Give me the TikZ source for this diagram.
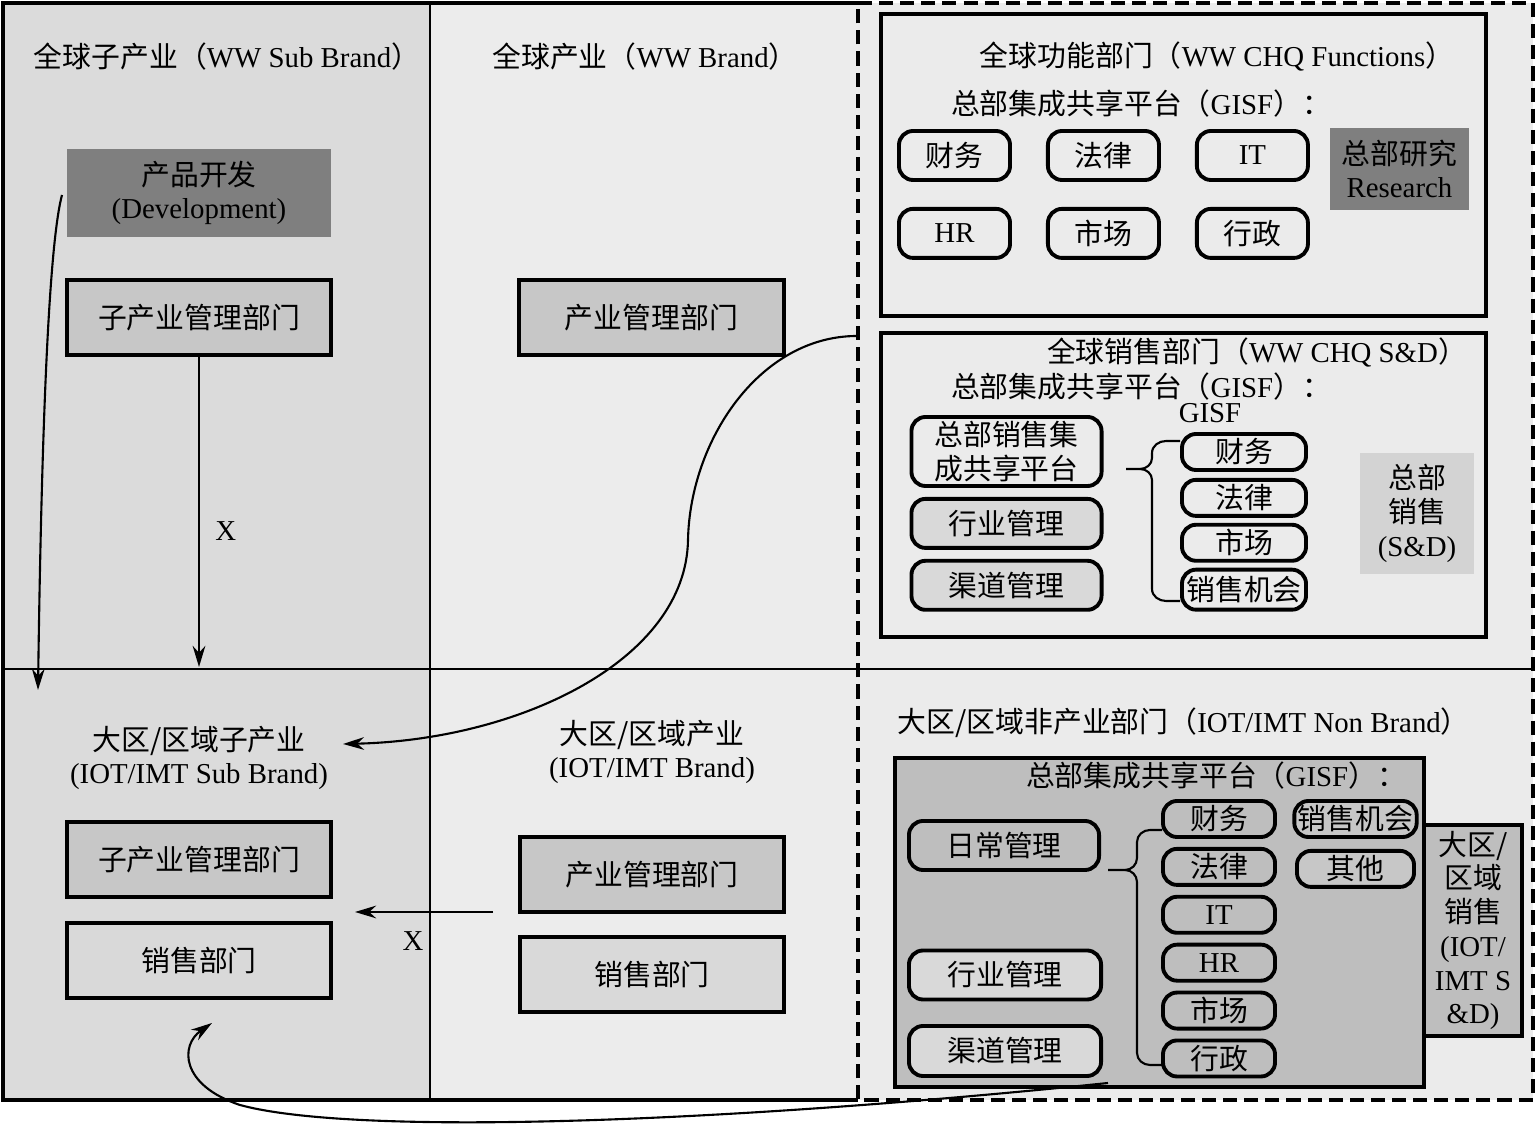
\documentclass[tikz,border=0pt]{standalone}
\usepackage{fontspec}
\setmainfont{Liberation Serif}
\newfontfamily\zhfont{Noto Sans CJK SC}
\usetikzlibrary{arrows.meta, positioning}
\usepackage{xcolor}
\definecolor{panelgray}{HTML}{DBDBDB}
\definecolor{panellight}{HTML}{ECECEC}
\definecolor{rightgray}{HTML}{EBEBEB}
\definecolor{mgrgray}{HTML}{C7C7C7}
\definecolor{salesgray}{HTML}{D9D9D9}
\definecolor{devgray}{HTML}{7F7F7F}
\definecolor{sdgray}{HTML}{D3D3D3}
\definecolor{gisfgray}{HTML}{BEBEBE}
\newcommand{\fs}{\fontsize{8.2}{9.6}\selectfont}
\newcommand{\zh}[1]{{\zhfont #1}}

\begin{document}
\begin{tikzpicture}[
    x=0.01cm, y=-0.01cm,
    font=\fs,
    node distance=0.08cm and 0.34cm,
    title/.style={inner sep=0pt, align=center, font=\fs},
    mgr/.style={draw, line width=1.1pt, fill=mgrgray, font=\zhfont\fs,
                minimum width=2.64cm, minimum height=0.75cm},
    sales/.style={mgr, fill=salesgray},
    dev/.style={fill=devgray, align=center, font=\fs,
                minimum width=2.64cm, minimum height=0.82cm},
    frame/.style={draw, line width=1.1pt},
    rbox/.style={draw, line width=1.1pt, rounded corners=4pt, fill=rightgray,
                 font=\zhfont\fs, inner xsep=1pt, inner ysep=0pt,
                 minimum width=1.11cm, minimum height=0.49cm},
    pbox/.style={rbox, minimum width=1.9cm},
    sbox/.style={rbox, minimum width=1.24cm, minimum height=0.36cm},
    gbox/.style={rbox, fill=gisfgray, minimum width=1.12cm, minimum height=0.36cm},
    arr/.style={-{Stealth[length=6pt, width=3.6pt]}, line width=0.6pt},
    brace/.style={line width=0.6pt},
  ]
    % background panels
    \fill[panelgray]  (3,3)   rectangle (430,1100);
    \fill[panellight] (430,3) rectangle (858,1100);
    \fill[rightgray]  (858,3) rectangle (1533,1100);
    \draw[line width=1pt] (858,3) -- (3,3) -- (3,1100) -- (858,1100);
    \draw[line width=0.7pt] (430,3) -- (430,1100);
    \draw[line width=0.6pt] (3,669) -- (1533,669);
    \draw[line width=1pt, dash pattern=on 4pt off 2pt] (858,3) -- (1533,3) -- (1533,1100) -- (858,1100) -- cycle;

    % global sub brand / brand
    \node[title] (wwsub) at (227,57) {\zh{全球子产业（}WW Sub Brand\zh{）}};
    \node[title] (wwbr)  at (645,57) {\zh{全球产业（}WW Brand\zh{）}};
    \node[dev]   (dev)   at (199,193) {\zh{产品开发}\\(Development)};
    \node[mgr]   (subm)  at (199,317.5) {子产业管理部门};
    \node[mgr]   (brm)   at (651.5,317.5) {产业管理部门};

    % regional sub brand / brand
    \node[title] (iotsub) at (199,758) {\zh{大区/区域子产业}\\(IOT/IMT Sub Brand)};
    \node[mgr]   (rsubm)  at (199,859.5) {子产业管理部门};
    \node[sales, below=0.22cm of rsubm] (rsales) {销售部门};
    \node[title] (iotbr)  at (652,752) {\zh{大区/区域产业}\\(IOT/IMT Brand)};
    \node[mgr]   (rbrm)   at (652,874.5) {产业管理部门};
    \node[sales, below=0.21cm of rbrm] (rbsales) {销售部门};

    % WW CHQ functions
    \node[frame, fill=rightgray, minimum width=6.05cm, minimum height=3.02cm] (fnbox) at (1183.5,165) {};
    \node[title] (wwfn)  at (1217,57)  {\zh{全球功能部门（}WW CHQ Functions\zh{）}};
    \node[title] (gisf1) at (1141,104) {\zh{总部集成共享平台（}GISF\zh{）：}};
    \node[rbox] (fin)  at (954.5,155.5) {财务};
    \node[rbox, right=of fin] (law) {法律};
    \node[rbox, right=of law, font=\fs] (it) {IT};
    \node[rbox, below=0.25cm of fin, font=\fs] (hr) {HR};
    \node[rbox, below=0.25cm of law] (mkt) {市场};
    \node[rbox, below=0.25cm of it] (adm) {行政};
    \node[dev, minimum width=1.39cm, minimum height=0.82cm] (research) at (1399.5,169) {\zh{总部研究}\\Research};

    % WW CHQ S&D
    \node[frame, fill=rightgray, minimum width=6.05cm, minimum height=3.04cm] (sdbox) at (1183.5,485) {};
    \node[title] (wwsd)  at (1257,353) {\zh{全球销售部门（}WW CHQ S\&D\zh{）}};
    \node[title] (gisf2) at (1141,387) {\zh{总部集成共享平台（}GISF\zh{）：}};
    \node[title] (gisfl) at (1210,413) {GISF};
    \node[pbox, minimum height=0.69cm, align=center] (plat) at (1006.5,451.5) {总部销售集\\成共享平台};
    \node[pbox, fill=salesgray, below=0.09cm of plat] (ind1) {行业管理};
    \node[pbox, fill=salesgray, below=0.09cm of ind1] (chn1) {渠道管理};
    \node[sbox] (sfin) at (1244,452) {财务};
    \node[sbox, below=0.06cm of sfin] (slaw) {法律};
    \node[sbox, below=0.05cm of slaw] (smkt) {市场};
    \node[sbox, below=0.05cm of smkt, minimum height=0.4cm] (sopp) {销售机会};
    \node[fill=sdgray, align=center, minimum width=1.14cm, minimum height=1.13cm] (sdl) at (1417,513.5) {\zh{总部}\\\zh{销售}\\(S\&D)};
    \coordinate (b1tip) at (1126,469);
    \coordinate (b1top) at (1180,441);
    \coordinate (b1bot) at (1180,601);
    \draw[brace] (b1top) -- (1166,441) to[out=180, in=90] (1152,453) -- (1152,458)
      to[out=-90, in=0] (1140,469) -- (b1tip);
    \draw[brace] (1140,469) to[out=0, in=90] (1152,480) -- (1152,589)
      to[out=-90, in=180] (1166,601) -- (b1bot);

    % regional non brand
    \node[title, anchor=west] (nonbr) at (897,723) {\zh{大区/区域非产业部门（}IOT/IMT Non Brand\zh{）}};
    \node[frame, fill=gisfgray, minimum width=5.29cm, minimum height=3.29cm] (gisfbox) at (1159.5,922.5) {};
    \node[title] (gisf3) at (1216,776) {\zh{总部集成共享平台（}GISF\zh{）：}};
    \node[pbox, fill=gisfgray] (daily) at (1004,845.5) {日常管理};
    \node[pbox, fill=salesgray, minimum width=1.92cm] (ind2) at (1005,975) {行业管理};
    \node[pbox, fill=salesgray, minimum width=1.92cm, minimum height=0.5cm] (chn2) at (1005,1051) {渠道管理};
    \node[gbox] (rfin) at (1219,819) {财务};
    \node[gbox, below=of rfin] (rlaw) {法律};
    \node[gbox, below=of rlaw, font=\fs] (rit) {IT};
    \node[gbox, below=of rit, font=\fs] (rhr) {HR};
    \node[gbox, below=of rhr] (rmkt) {市场};
    \node[gbox, below=of rmkt] (radm) {行政};
    \node[gbox, minimum width=1.17cm, fill=mgrgray] (ropp) at (1355.5,819) {销售机会};
    \node[gbox, minimum width=1.17cm, fill=mgrgray, below=0.1cm of ropp] (roth) {其他};
    \node[frame, fill=gisfgray, align=center, inner sep=0pt, minimum width=0.98cm, minimum height=2.11cm] (rsd) at (1473,930.5)
      {\zh{大区/}\\\zh{区域}\\\zh{销售}\\(IOT/\\IMT S\\\&D)};
    \coordinate (b2tip) at (1108,870);
    \coordinate (b2top) at (1162,830);
    \coordinate (b2bot) at (1162,1065);
    \draw[brace] (b2top) -- (1150,830) to[out=180, in=90] (1137,842) -- (1137,858)
      to[out=-90, in=0] (1125,870) -- (b2tip);
    \draw[brace] (1125,870) to[out=0, in=90] (1137,882) -- (1137,1053)
      to[out=-90, in=180] (1150,1065) -- (b2bot);

    % connectors
    \coordinate (hline) at (199,667);
    \draw[arr] (subm.south) -- node[pos=0.56, right=1pt]{X} (hline);
    \coordinate (devl) at (62,195);
    \coordinate (devend) at (38,690);
    \draw[arr] (devl) .. controls (50,240) and (42,400) .. (devend);
    \coordinate (sdstart) at (857,336);
    \coordinate (iotsubr) at (343,744);
    \draw[arr] (sdstart) .. controls (760,336) and (690,440) .. (688,540)
      .. controls (686,660) and (520,740) .. (iotsubr);
    \coordinate (brleft) at (493,912);
    \coordinate (subright) at (355,912);
    \draw[arr] (brleft) -- node[pos=0.58, below=2pt]{X} (subright);
    \coordinate (gisfbot) at (1108,1083);
    \coordinate (rsalesbot) at (212,1023);
    \draw[arr] (gisfbot) .. controls (700,1125) and (350,1135) .. (240,1105)
      .. controls (180,1085) and (180,1045) .. (rsalesbot);

    \useasboundingbox (0,0) rectangle (1536,1127);
  \end{tikzpicture}
\end{document}
